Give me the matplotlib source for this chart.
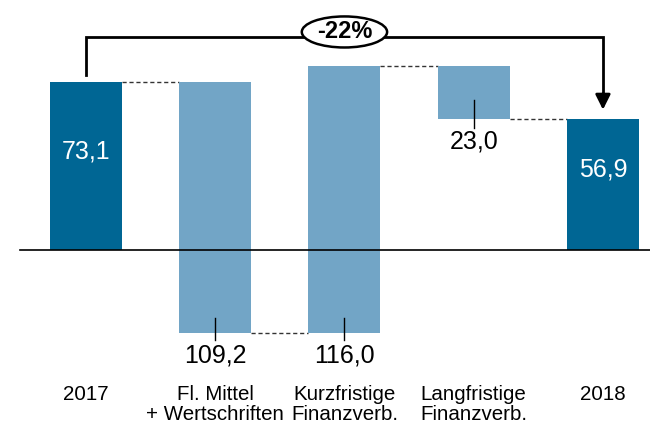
import matplotlib.pyplot as plt
from matplotlib.patches import Ellipse

plt.rcParams['font.family'] = ['Liberation Sans', 'DejaVu Sans']

# Daten
kategorien = ['2017', 'Fl. Mittel\n+ Wertschriften', 'Kurzfristige\nFinanzverb.',
              'Langfristige\nFinanzverb.', '2018']
werte = [73.1, -109.2, 116.0, -23.0, 56.9]
labels = ['73,1', '109,2', '116,0', '23,0', '56,9']
ist_summe = [True, False, False, False, True]
veraenderung = '-22%'

dunkel = '#006694'
hell = '#72a5c6'

fig = plt.figure(figsize=(6.5, 4.3), dpi=100)
ax = fig.add_axes([0, 0, 1, 1])
ax.set_xlim(-0.665, 4.364)
ax.set_ylim(-78.3, 108.7)
ax.axis('off')

breite = 0.557
# Start- und Endwerte der Balken berechnen
stufe = 0
unten, oben = [], []
for w, s in zip(werte, ist_summe):
    if s:
        unten.append(0)
        oben.append(w)
        stufe = w
    else:
        neu = stufe + w
        unten.append(min(stufe, neu))
        oben.append(max(stufe, neu))
        stufe = neu

for i in range(len(werte)):
    farbe = dunkel if ist_summe[i] else hell
    ax.bar(i, oben[i] - unten[i], bottom=unten[i], width=breite, color=farbe, zorder=2)

# Verbindungslinien
stufe = 0
for i in range(len(werte) - 1):
    stufe = werte[i] if ist_summe[i] else stufe + werte[i]
    ax.plot([i + breite / 2, i + 1 - breite / 2], [stufe, stufe], ls=(0, (3, 2)),
            color='#333333', lw=1, zorder=1)

# Nulllinie
ax.plot([-0.51, 4.364], [0, 0], color='black', lw=1.2, zorder=3)

# Beschriftungen
ax.text(0, 42.6, labels[0], color='white', fontsize=18, ha='center', va='center')
ax.text(4, 34.8, labels[4], color='white', fontsize=18, ha='center', va='center')
# Fl. Mittel / Kurzfristige unten
for i in [1, 2]:
    ax.plot([i, i], [unten[i] + 6.5, unten[i] - 3], color='black', lw=1, zorder=3)
    ax.text(i, -45.7, labels[i], fontsize=18, ha='center', va='center')
# Langfristige
ax.plot([3, 3], [65, 53], color='black', lw=1, zorder=3)
ax.text(3, 47, labels[3], fontsize=18, ha='center', va='center')

for i, k in enumerate(kategorien):
    ax.text(i, -58.8, k, fontsize=14.8, ha='center', va='top', linespacing=1.05)

# Klammer mit Pfeil
y_k = 92.6
ax.plot([0, 0, 4, 4], [76.1, y_k, y_k, 66], color='black', lw=2, zorder=3,
        solid_joinstyle='miter')
ax.annotate('', xy=(4, 61), xytext=(4, 68),
            arrowprops=dict(arrowstyle='-|>,head_width=0.45,head_length=0.9',
                            color='black', lw=2, shrinkA=0, shrinkB=0))
ax.add_patch(Ellipse((2, 94.8), 0.66, 13.5, facecolor='white', edgecolor='black',
                     lw=1.8, zorder=4))
ax.text(2, 94.8, veraenderung, fontsize=17, fontweight='bold', ha='center',
        va='center', zorder=5)

fig.savefig('out.png', dpi=100)
